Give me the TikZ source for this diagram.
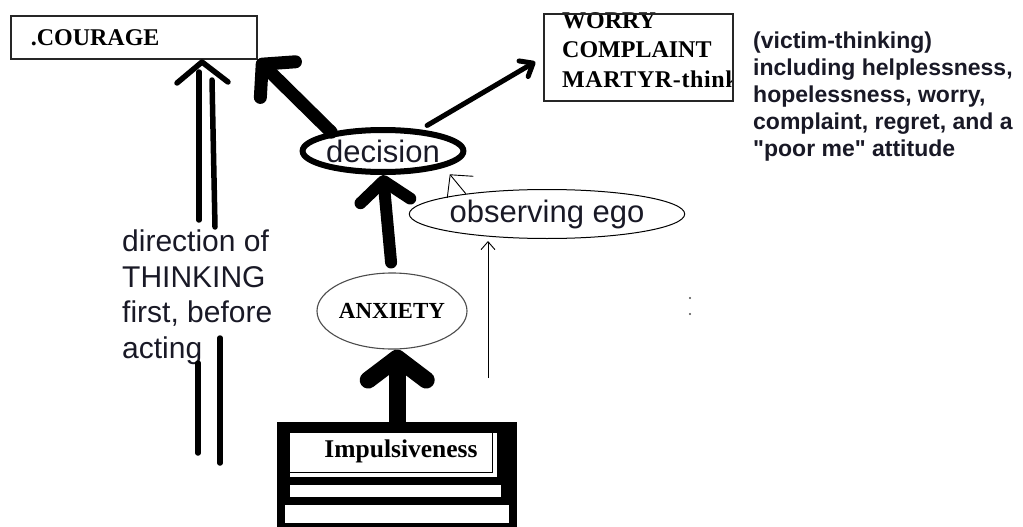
\documentclass[tikz,border=0pt]{standalone}
\usepackage{fontspec}
\setmainfont{Liberation Serif}
\setsansfont{Liberation Sans}
\newfontfamily\plainsans{Liberation Sans}
\usetikzlibrary{arrows.meta,shapes.geometric}
\definecolor{ink}{RGB}{25,25,38}
\begin{document}
\begin{tikzpicture}[x=1pt,y=-1pt,
  box/.style={draw=black!85, line width=1.6pt, inner sep=0pt},
  serifb/.style={font=\bfseries\fontsize{24}{29.5}\selectfont, text=black},
  sanslab/.style={font=\sffamily\fontsize{31}{37}\selectfont, text=ink},
  oval/.style={ellipse, inner sep=0pt},
  heavy/.style={draw=black, line cap=round, line join=round},
  thin/.style={draw=black, line width=0.9pt}
]
\useasboundingbox (0,0) rectangle (1023,527);

% boxes
\node[box, anchor=north west, minimum width=246pt, minimum height=43pt,
      inner xsep=20pt, text width=206pt, align=left, serifb] (courage) at (10,15) {.COURAGE};

\begin{scope}
  \clip (543,13) rectangle (732,100);
  \node[serifb, anchor=north west, inner sep=0pt, align=left] (worrytext) at (562,12)
    {WORRY\\COMPLAINT\\{\addfontfeature{LetterSpace=2.5}MARTYR-think}};
\end{scope}
\node[box, anchor=north west, minimum width=189pt, minimum height=87pt] (worry) at (543,13) {};

\node[anchor=north west, inner sep=0pt, align=left, text=ink,
      font=\plainsans\bfseries\fontsize{23}{27}\selectfont] (victim) at (753,32)
  {(victim-thinking)\\including helplessness,\\hopelessness, worry,\\complaint, regret, and a\\"poor me" attitude};

% ovals
\node[oval, draw=black, line width=6pt, minimum width=154pt, minimum height=42pt, sanslab] (dec) at (383,151) {decision};
\node[oval, draw=black, line width=1pt, minimum width=224pt, minimum height=49pt, sanslab] (obs) at (547,214) {observing ego};
\node[oval, draw=black!70, line width=1.1pt, minimum width=118pt, minimum height=76pt,
      font=\bfseries\fontsize{23}{23}\selectfont] (anx) at (392,311) {ANXIETY};

% impulsiveness block
\node[fill=black, anchor=north west, minimum width=240pt, minimum height=110pt, inner sep=0pt] (imp) at (277,422) {};
\fill[white] (290,433) rectangle (497,477);
\draw[line width=1pt] (290,472) -- (492,472) -- (492,433);
\fill[white] (290,485) rectangle (501,497);
\fill[white] (285,505) rectangle (509,523);
\node[font=\bfseries\fontsize{25.5}{25.5}\selectfont, inner sep=0pt] (impt) at (401,451) {Impulsiveness};

% direction text
\node[anchor=north west, inner sep=0pt, align=left, text=ink,
      font=\sffamily\fontsize{30}{35.5}\selectfont] (dir) at (122,230)
  {direction of\\THINKING\\first, before\\acting};

% heavy arrows
\draw[heavy, line width=12pt, -{Straight Barb[length=20pt,width=50pt,round]}, shorten <=10pt]
  (anx.north) -- (dec.south);
\draw[heavy, line width=17pt, -{Straight Barb[length=22pt,width=58pt,round]}]
  (imp.north) -- (imp.north |- anx.south);
\draw[heavy, line width=13pt, -{Straight Barb[length=22pt,width=50pt,round]}]
  (dec.160) -- (courage.south east);
\draw[heavy, line width=5pt, -{Straight Barb[length=11pt,width=18pt,round]}, shorten <=8pt, shorten >=9pt]
  (dec.30) -- (worry.west);

% thin arrows
\draw[thin, -{Straight Barb[length=16pt,width=34pt]}, shorten >=9pt] (obs.166) -- (dec.-15);
\coordinate (vb) at (488,378);
\draw[thin, -{Straight Barb[length=8pt,width=14pt]}, shorten >=2pt] (vb) -- (vb |- obs.south);

% double arrow (direction of thinking)
\coordinate (dtip) at (202,62);
\draw[heavy, line width=5.5pt] (177,83) -- (dtip) -- (228,82);
\draw[heavy, line width=5.5pt] (199,72) -- (199,220);
\draw[heavy, line width=5.5pt] (212,80) -- (215,227);
\draw[heavy, line width=5.5pt] (220,338) -- (220,463);
\draw[heavy, line width=5.5pt] (198,363) -- (198,453);

% stray dots
\fill[black!70] (690,298) circle (1.2pt);
\fill[black!70] (690,314) circle (1.2pt);
\end{tikzpicture}
\end{document}
